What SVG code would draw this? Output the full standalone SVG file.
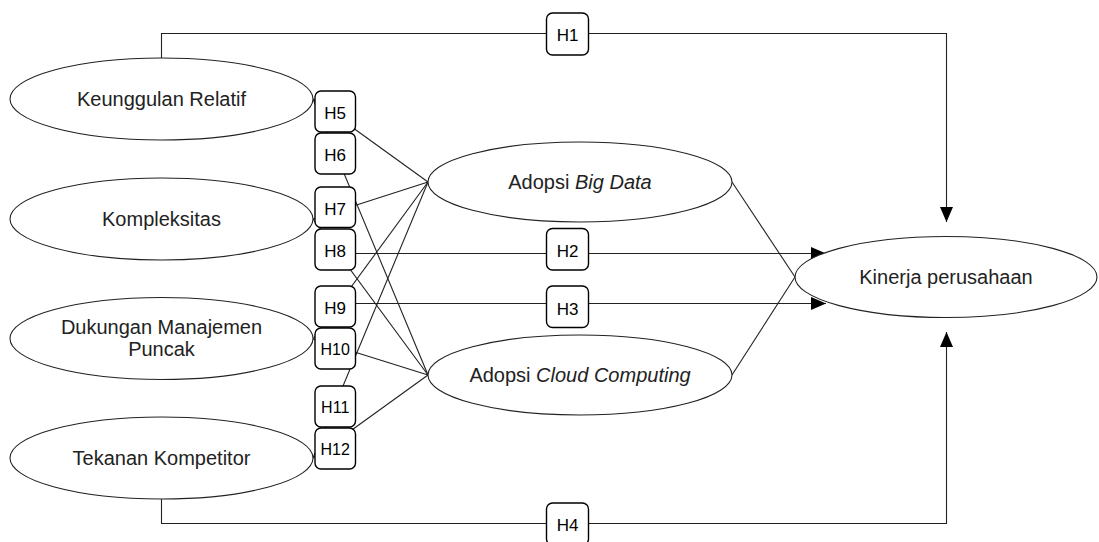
<svg xmlns="http://www.w3.org/2000/svg" width="1099" height="542" viewBox="0 0 1099 542">
<style>
.node ellipse{fill:#fff;stroke:#222;stroke-width:1.1}
.lbl{font-family:"Liberation Sans",Arial,sans-serif;font-size:20px;fill:#222;text-anchor:middle}
.edge{fill:none;stroke:#222;stroke-width:1.1}
.hbox rect{fill:#fff;stroke:#000;stroke-width:1.4}
.htxt{font-family:"Liberation Sans",Arial,sans-serif;font-size:17px;fill:#000;text-anchor:middle}
.small{font-size:16px}
</style>
<defs>
<marker id="arr" markerWidth="16" markerHeight="14" refX="15" refY="6.5" orient="auto" markerUnits="userSpaceOnUse">
<path d="M0,0 L15,6.5 L0,13 Z" fill="#000"/>
</marker>
</defs>
<rect width="1099" height="542" fill="#fff"/>

<g id="connectors">
<path class="edge" d="M161.5,58 V33.5 H946.5 V222" marker-end="url(#arr)"/>
<path class="edge" d="M161.5,499 V523.5 H946.5 V332" marker-end="url(#arr)"/>
<path class="edge" d="M340,253.5 H826" marker-end="url(#arr)"/>
<path class="edge" d="M340,303.5 H826" marker-end="url(#arr)"/>
<line class="edge" x1="313" y1="99" x2="428" y2="182"/>
<line class="edge" x1="313" y1="99" x2="428" y2="375"/>
<line class="edge" x1="313" y1="219" x2="428" y2="182"/>
<line class="edge" x1="313" y1="219" x2="428" y2="375"/>
<line class="edge" x1="313" y1="339" x2="428" y2="182"/>
<line class="edge" x1="313" y1="339" x2="428" y2="375"/>
<line class="edge" x1="313" y1="458" x2="428" y2="182"/>
<line class="edge" x1="313" y1="458" x2="428" y2="375"/>
<line class="edge" x1="732" y1="182" x2="795" y2="277"/>
<line class="edge" x1="732" y1="375" x2="795" y2="277"/>
</g>

<g id="node-keunggulan" class="node">
<ellipse cx="161.5" cy="99" rx="151.5" ry="41"/>
<text class="lbl" x="161.5" y="106">Keunggulan Relatif</text>
</g>
<g id="node-kompleksitas" class="node">
<ellipse cx="161.5" cy="219" rx="151.5" ry="41"/>
<text class="lbl" x="161.5" y="226">Kompleksitas</text>
</g>
<g id="node-dukungan" class="node">
<ellipse cx="161.5" cy="338.5" rx="151.5" ry="41"/>
<text class="lbl" x="161.5" y="334">Dukungan Manajemen</text>
<text class="lbl" x="161.5" y="355.5">Puncak</text>
</g>
<g id="node-tekanan" class="node">
<ellipse cx="161.5" cy="458" rx="151.5" ry="41"/>
<text class="lbl" x="161.5" y="465">Tekanan Kompetitor</text>
</g>
<g id="node-bigdata" class="node">
<ellipse cx="580" cy="182" rx="152" ry="40"/>
<text class="lbl" x="580" y="189">Adopsi <tspan font-style="italic">Big Data</tspan></text>
</g>
<g id="node-cloud" class="node">
<ellipse cx="580" cy="375" rx="152" ry="40"/>
<text class="lbl" x="580" y="382">Adopsi <tspan font-style="italic">Cloud Computing</tspan></text>
</g>
<g id="node-kinerja" class="node">
<ellipse cx="946" cy="277" rx="151" ry="40.5"/>
<text class="lbl" x="946" y="284">Kinerja perusahaan</text>
</g>

<g id="labels">
<g class="hbox"><rect x="546.5" y="13" width="42" height="42" rx="6"/><text class="htxt" x="567.5" y="40.5">H1</text></g>
<g class="hbox"><rect x="546.5" y="228.5" width="42" height="41.5" rx="6"/><text class="htxt" x="567.5" y="257">H2</text></g>
<g class="hbox"><rect x="546.5" y="286" width="42" height="41.5" rx="6"/><text class="htxt" x="567.5" y="314.5">H3</text></g>
<g class="hbox"><rect x="546.5" y="503" width="42" height="42" rx="6"/><text class="htxt" x="567.5" y="530.5">H4</text></g>
<g class="hbox"><rect x="315" y="91" width="40.5" height="41" rx="6"/><text class="htxt" x="335.2" y="119">H5</text></g>
<g class="hbox"><rect x="315" y="133" width="40.5" height="41" rx="6"/><text class="htxt" x="335.2" y="161">H6</text></g>
<g class="hbox"><rect x="315" y="187" width="40.5" height="40.5" rx="6"/><text class="htxt" x="335.2" y="215">H7</text></g>
<g class="hbox"><rect x="315" y="229" width="40.5" height="41" rx="6"/><text class="htxt" x="335.2" y="257">H8</text></g>
<g class="hbox"><rect x="315" y="286" width="40.5" height="41" rx="6"/><text class="htxt" x="335.2" y="314">H9</text></g>
<g class="hbox"><rect x="315" y="328" width="40.5" height="41" rx="6"/><text class="htxt small" x="335.2" y="354.5">H10</text></g>
<g class="hbox"><rect x="315" y="386" width="40.5" height="41" rx="6"/><text class="htxt small" x="335.2" y="412.5">H11</text></g>
<g class="hbox"><rect x="315" y="428" width="40.5" height="41" rx="6"/><text class="htxt small" x="335.2" y="454.5">H12</text></g>
</g>
</svg>
